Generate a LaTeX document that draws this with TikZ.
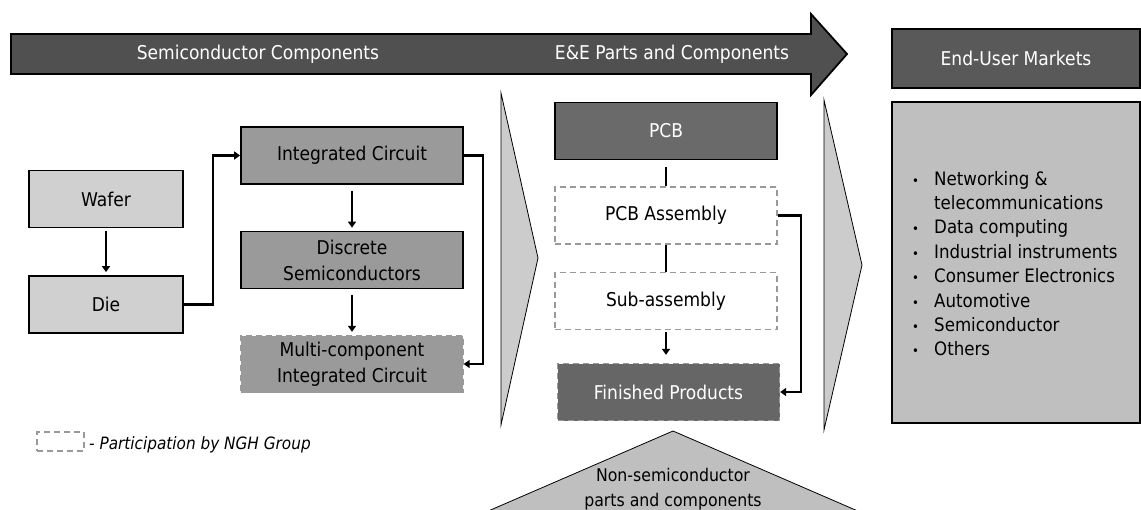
\documentclass[tikz,border=0pt]{standalone}
\usepackage{fontspec}
\setmainfont{DejaVu Sans Condensed}
\usetikzlibrary{arrows.meta}
\definecolor{hdr}{HTML}{505050}
\definecolor{lightbox}{HTML}{D0D0D0}
\definecolor{midbox}{HTML}{9A9A9A}
\definecolor{pcbgray}{HTML}{6A6A6A}
\definecolor{fingray}{HTML}{666666}
\definecolor{eumgray}{HTML}{595959}
\definecolor{listgray}{HTML}{BFBFBF}
\definecolor{chev}{HTML}{CCCCCC}
\definecolor{dashgray}{HTML}{999999}
\newcommand\bul{\makebox[22pt][l]{\fontsize{13}{13}\selectfont •}}
\tikzset{
  box/.style={draw=black, line width=1.7pt, minimum width=222pt, minimum height=57pt,
    inner sep=0pt, align=center, font=\fontsize{19}{26}\selectfont, text=black},
  lightbox/.style={box, fill=lightbox, minimum width=154pt},
  midbox/.style={box, fill=midbox},
  dashbox/.style={draw=dashgray, line width=1.3pt, dash pattern=on 6pt off 4pt},
  conn/.style={line width=2.3pt, black},
  arr/.style={conn, -{Triangle[length=6pt,width=8pt]}},
  chevron/.style={fill=chev, draw=black, line width=0.8pt},
  hdrtext/.style={text=white, font=\fontsize{19}{24}\selectfont, inner sep=0pt}
}
\begin{document}
\begin{tikzpicture}[x=1pt,y=-1pt]
\useasboundingbox (0,0) rectangle (1141,509);
\clip (0,0) rectangle (1141,509);
% header arrow
\draw[fill=hdr, line width=1.8pt, line join=miter] (11,34) -- (811,34) -- (811,14) -- (847,54) -- (811,95) -- (811,74) -- (11,74) -- cycle;
\node[hdrtext] (h1) at (258,54) {Semiconductor Components};
\node[hdrtext] (h2) at (672,54) {E\&E Parts and Components};
% chevrons
\draw[chevron] (501,93) -- (538,258) -- (501,425) -- cycle;
\draw[chevron] (824,100) -- (862,265) -- (824,430) -- cycle;
% bottom triangle
\draw[fill=listgray, draw=black, line width=0.8pt] (673,431) -- (867,515) -- (479,515) -- cycle;
\node[align=center, inner sep=0pt, font=\fontsize{17.5}{25}\selectfont] (nonsemi) at (673,489.5) {Non-semiconductor\\parts and components};
% semiconductor components
\node[lightbox] (wafer) at (106,199) {Wafer};
\node[lightbox] (die) at (106,304.5) {Die};
\node[midbox] (ic) at (352,155.5) {Integrated Circuit};
\node[midbox] (disc) at (352,260) {Discrete\\Semiconductors};
\node[midbox, dashbox] (multi) at (352,364) {Multi-component\\Integrated Circuit};
% E&E
\node[box, fill=pcbgray, text=white] (pcb) at (666,131) {PCB};
\node[box, fill=white, dashbox] (pcba) at (666,215.5) {PCB Assembly};
\node[box, fill=white, dashbox] (sub) at (666,301) {Sub-assembly};
\node[box, fill=fingray, text=white, dashbox] (fin) at (668.5,392) {Finished Products};
% end-user
\node[box, fill=eumgray, text=white, minimum width=248pt, minimum height=59pt] (eum) at (1016,58.5) {End-User Markets};
\node[box, fill=listgray, minimum width=248pt, minimum height=321pt] (list) at (1016,262.5) {};
\node[anchor=west, inner sep=0pt, align=left, font=\fontsize{18.5}{24.4}\selectfont] (items) at (912,263.5)
  {\bul Networking \&\\
   \hspace*{22pt}telecommunications\\
   \bul Data computing\\
   \bul Industrial instruments\\
   \bul Consumer Electronics\\
   \bul Automotive\\
   \bul Semiconductor\\
   \bul Others};
% legend
\node[dashbox, minimum width=47pt, minimum height=19pt, inner sep=0pt] (leg) at (60.5,441.5) {};
\node[anchor=west, inner sep=0pt, font=\fontsize{17}{20}\selectfont\itshape] (legtext) at (89,445) {- Participation by NGH Group};
% connectors
\draw[arr, shorten <=3pt, shorten >=3pt] (wafer) -- (die);
\draw[arr] (die.east) -- ++(29,0) |- (ic.west);
\draw[arr, shorten <=6pt, shorten >=3pt] (ic) -- (disc);
\draw[arr, shorten <=6pt, shorten >=3pt] (disc) -- (multi);
\draw[arr] (ic.east) -- ++(19,0) |- (multi.east);
\draw[conn, shorten <=7pt] (pcb) -- (pcba);
\draw[conn] (pcba) -- (sub);
\draw[arr, shorten <=2pt, shorten >=8pt] (sub.south) -- (sub.south |- fin.north);
\draw[arr] (pcba.east) -- ++(23,0) |- (fin.east);
\end{tikzpicture}
\end{document}
